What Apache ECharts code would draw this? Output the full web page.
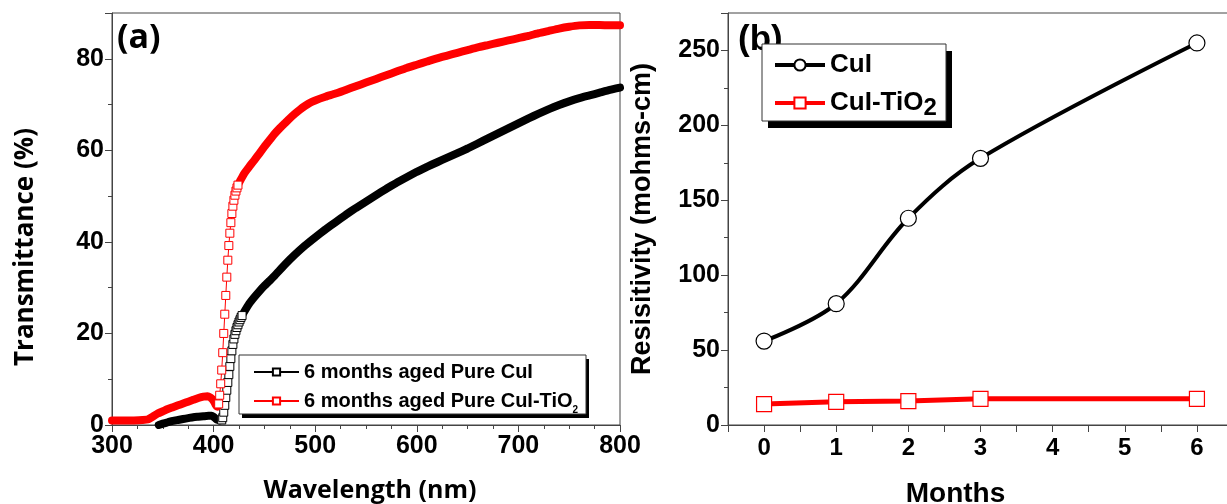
<!DOCTYPE html>
<html>
<head>
<meta charset="utf-8">
<title>Transmittance and resistivity</title>
<script src="https://cdn.jsdelivr.net/npm/echarts@6/dist/echarts.min.js"></script>
<style>
	html, body { margin: 0; padding: 0; background: #fff; }
	#chart { width: 1227px; height: 504px; }
</style>
</head>
<body>
<div id="chart"></div>
<script>
// (a) transmittance spectra
const wlPure = [346, 350, 355, 360, 365, 370, 375, 380, 385, 390, 395, 398, 400, 402, 404, 406, 408,
	409, 410, 411, 412, 413, 414, 415, 416, 417, 418, 419, 420, 421, 422, 423, 424, 425, 426, 427, 428,
	430, 435, 440, 445, 450, 455, 460, 470, 480, 490, 500, 510, 520, 530, 540, 550, 560, 570, 580, 590,
	600, 610, 620, 630, 640, 650, 660, 670, 680, 690, 700, 710, 720, 730, 740, 750, 760, 770, 780, 790, 800];
const tPure = [0.0, 0.3, 0.6, 0.9, 1.1, 1.3, 1.5, 1.7, 1.8, 1.9, 2.0, 2.0, 1.8, 1.4, 1.1, 1.0, 1.1,
	1.6, 2.8, 4.3, 6.0, 7.6, 9.3, 11.0, 12.8, 14.5, 16.2, 17.6, 18.8, 19.8, 20.6, 21.3, 21.9, 22.5, 23.0, 23.5, 23.9,
	24.7, 26.5, 27.9, 29.2, 30.4, 31.5, 32.6, 35.0, 37.2, 39.2, 41.0, 42.7, 44.3, 45.9, 47.4, 48.8, 50.2, 51.6, 52.9, 54.1,
	55.3, 56.4, 57.4, 58.4, 59.4, 60.4, 61.5, 62.6, 63.7, 64.8, 65.9, 67.0, 68.0, 69.0, 69.9, 70.7, 71.4, 72.0, 72.6, 73.2, 73.7];

const wlTiO2 = [300, 310, 320, 330, 335, 340, 345, 350, 355, 360, 365, 370, 375, 380, 385, 390, 394, 397, 399,
	401, 402, 403, 404, 405, 406, 407, 408, 409, 410, 411, 412, 413, 414, 415, 416, 417, 418, 419, 420, 421, 422,
	423, 424, 425, 426, 428, 430, 435, 440, 445, 450, 455, 460, 465, 470, 475, 480, 485, 490, 495, 500, 510, 520,
	530, 540, 550, 560, 570, 580, 590, 600, 610, 620, 630, 640, 650, 660, 670, 680, 690, 700, 710, 720, 730, 740,
	750, 760, 770, 780, 790, 800];
const tTiO2 = [1.0, 1.0, 1.0, 1.1, 1.2, 1.8, 2.5, 3.0, 3.5, 3.9, 4.3, 4.7, 5.1, 5.5, 5.9, 6.2, 6.3, 6.0, 5.6,
	4.9, 4.4, 4.1, 4.0, 4.6, 6.5, 9.0, 12.0, 15.8, 20.0, 24.2, 28.3, 32.3, 36.0, 39.2, 41.9, 44.2, 46.2, 47.8, 49.1, 50.2, 51.1,
	51.8, 52.4, 52.9, 53.3, 54.1, 54.9, 56.4, 57.8, 59.3, 60.8, 62.2, 63.6, 64.8, 65.9, 67.0, 68.0, 68.9, 69.7, 70.4, 70.9, 71.7, 72.4,
	73.2, 74.0, 74.8, 75.6, 76.4, 77.2, 78.0, 78.7, 79.4, 80.1, 80.7, 81.3, 81.9, 82.5, 83.0, 83.5, 84.0, 84.5, 85.0, 85.6, 86.1, 86.6,
	87.0, 87.3, 87.4, 87.4, 87.3, 87.3];

// (b) resistivity vs ageing time
const months = [0, 1, 2, 3, 6];
const rhoCuI = [56, 81, 138, 178, 255];
const rhoCuITiO2 = [14, 15.5, 16, 17.5, 17.5];

const namePure = '6 months aged Pure CuI';
const nameTiO2 = '6 months aged Pure CuI-TiO2';

// where single squares are still visible on the steep edge; elsewhere they merge into a band
const markerZonePure = [408, 428];
const markerZoneTiO2 = [405, 424];

function pick(xs, ys, zone, inside) {
	return xs.map(function(x, i) {
		var isIn = x >= zone[0] && x <= zone[1];
		return [x, isIn === inside ? ys[i] : '-'];
	});
}

const boldArial = 'Liberation Sans, Arial, sans-serif';
const segoeLike = 'Open Sans, Lato, sans-serif';
const axisColor = '#444';

function valueAxis(extra) {
	return Object.assign({
		type: 'value',
		axisLine: { show: true, onZero: false, lineStyle: { color: axisColor, width: 1 } },
		axisTick: { show: true, inside: false, length: 7, lineStyle: { color: axisColor } },
		minorTick: { show: true, length: 4, lineStyle: { color: axisColor } },
		splitLine: { show: false },
		axisLabel: { color: '#000', fontFamily: boldArial, fontWeight: 'bold', fontSize: 25, showMaxLabel: false },
		nameTextStyle: { color: '#000', fontWeight: 'bold' }
	}, extra);
}

// legend frames with the solid offset shadow
function framedBox(x, y, w, h, dx, dy) {
	return [
		{ type: 'rect', z: 10, shape: { x: x + dx, y: y + dy, width: w, height: h }, style: { fill: '#000' } },
		{ type: 'rect', z: 11, shape: { x: x, y: y, width: w, height: h }, style: { fill: '#fff', stroke: '#333', lineWidth: 1 } }
	];
}

var chart = echarts.init(document.getElementById('chart'), null, { renderer: 'canvas' });

var option = {
	animation: false,
	backgroundColor: '#fff',
	grid: [
		{ left: 112, top: 13, right: 607, bottom: 79, outerBoundsMode: 'none', containLabel: false,
			show: true, borderColor: axisColor, borderWidth: 1 },
		{ left: 728, top: 13, right: -6, bottom: 79, outerBoundsMode: 'none', containLabel: false,
			show: true, borderColor: axisColor, borderWidth: 1 }
	],
	xAxis: [
		valueAxis({
			gridIndex: 0, min: 300, max: 800, interval: 100,
			minorTick: { show: true, splitNumber: 4, length: 4, lineStyle: { color: axisColor } },
			axisLabel: { color: '#000', fontFamily: boldArial, fontWeight: 'bold', fontSize: 25, margin: 9 },
			name: 'Wavelength (nm)', nameLocation: 'middle', nameGap: 53,
			nameTextStyle: { color: '#000', fontFamily: segoeLike, fontWeight: 'bold', fontSize: 25, padding: [0, 0, 0, 8] }
		}),
		valueAxis({
			gridIndex: 1, min: -0.5, max: 6.5, interval: 0.5,
			minorTick: { show: false },
			axisLabel: {
				color: '#000', fontFamily: boldArial, fontWeight: 'bold', fontSize: 24, margin: 11,
				formatter: function(v) { return v % 1 === 0 && v >= 0 ? String(v) : ''; }
			},
			name: 'Months', nameLocation: 'middle', nameGap: 55,
			nameTextStyle: { color: '#000', fontFamily: boldArial, fontWeight: 'bold', fontSize: 28, padding: [0, 50, 0, 0] }
		})
	],
	yAxis: [
		valueAxis({
			gridIndex: 0, min: 0, max: 90, interval: 20,
			minorTick: { show: true, splitNumber: 2, length: 4, lineStyle: { color: axisColor } },
			name: 'Transmittance (%)', nameLocation: 'middle', nameRotate: 90, nameGap: 73,
			nameTextStyle: { color: '#000', fontFamily: segoeLike, fontWeight: 'bold', fontSize: 26, padding: [0, 56, 0, 0] }
		}),
		valueAxis({
			gridIndex: 1, min: 0, max: 275, interval: 50,
			minorTick: { show: true, splitNumber: 2, length: 4, lineStyle: { color: axisColor } },
			axisLabel: { color: '#000', fontFamily: boldArial, fontWeight: 'bold', fontSize: 25, showMaxLabel: false },
			name: 'Resisitivity (mohms-cm)', nameLocation: 'middle', nameRotate: 90, nameGap: 72,
			nameTextStyle: { color: '#000', fontFamily: boldArial, fontWeight: 'bold', fontSize: 27 }
		})
	],
	legend: [{
		data: [namePure, nameTiO2],
		orient: 'vertical',
		left: 253, top: 362, z: 20,
		padding: 0,
		itemGap: 5,
		itemWidth: 45, itemHeight: 9,
		selectedMode: false,
		formatter: function(n) { return n === nameTiO2 ? '6 months aged Pure CuI-TiO{sub|2}' : n; },
		textStyle: {
			color: '#000', fontFamily: boldArial, fontWeight: 'bold', fontSize: 20, lineHeight: 20,
			rich: { sub: { fontFamily: boldArial, fontWeight: 'bold', fontSize: 10, lineHeight: 28, verticalAlign: 'bottom' } }
		}
	}, {
		data: ['CuI', 'CuI-TiO2'],
		orient: 'vertical',
		left: 773, top: 52, z: 20,
		padding: 0,
		itemGap: 8,
		itemWidth: 50, itemHeight: 14,
		lineStyle: { width: 4 },
		selectedMode: false,
		formatter: function(n) { return n === 'CuI-TiO2' ? 'CuI-TiO{sub|2}' : n; },
		textStyle: {
			color: '#000', fontFamily: boldArial, fontWeight: 'bold', fontSize: 26, lineHeight: 26,
			rich: { sub: { fontFamily: boldArial, fontWeight: 'bold', fontSize: 24, lineHeight: 34, verticalAlign: 'bottom' } }
		}
	}],
	graphic: framedBox(239, 355, 347, 59, 3, 4).concat(framedBox(762, 44, 184, 77, 6, 7)).concat([
		{ type: 'text', left: 117, top: 21, z: 12, style: { text: '(a)', fontFamily: segoeLike, fontWeight: 'bold', fontSize: 34, fill: '#000' } },
		{ type: 'text', left: 738, top: 23, z: 9, style: { text: '(b)', fontFamily: boldArial, fontWeight: 'bold', fontSize: 35, fill: '#000' } }
	]),
	series: [
		// black curve: separate squares on the edge, merged band elsewhere
		{
			name: namePure, type: 'line', xAxisIndex: 0, yAxisIndex: 0, z: 3,
			data: pick(wlPure, tPure, markerZonePure, true),
			symbol: 'rect', symbolSize: 8, showAllSymbol: true,
			lineStyle: { color: '#000', width: 1 },
			itemStyle: { color: '#fff', borderColor: '#000', borderWidth: 1 }
		},
		{
			name: namePure, type: 'line', xAxisIndex: 0, yAxisIndex: 0, z: 2,
			data: pick(wlPure, tPure, [markerZonePure[0] + 1, markerZonePure[1] - 2], false),
			symbol: 'none', smooth: 0.15,
			lineStyle: { color: '#000', width: 8, cap: 'round', join: 'round' }
		},
		{
			name: nameTiO2, type: 'line', xAxisIndex: 0, yAxisIndex: 0, z: 5,
			data: pick(wlTiO2, tTiO2, markerZoneTiO2, true),
			symbol: 'rect', symbolSize: 8, showAllSymbol: true,
			lineStyle: { color: '#f00', width: 1 },
			itemStyle: { color: '#fff', borderColor: '#f00', borderWidth: 1 }
		},
		{
			name: nameTiO2, type: 'line', xAxisIndex: 0, yAxisIndex: 0, z: 4,
			data: pick(wlTiO2, tTiO2, [markerZoneTiO2[0] + 1, markerZoneTiO2[1] - 2], false),
			symbol: 'none', smooth: 0.15,
			lineStyle: { color: '#f00', width: 8, cap: 'round', join: 'round' }
		},
		// panel (b)
		{
			name: 'CuI', type: 'line', xAxisIndex: 1, yAxisIndex: 1,
			data: months.map(function(m, i) { return [m, rhoCuI[i]]; }),
			smooth: 0.35,
			symbol: 'circle', symbolSize: 16,
			lineStyle: { color: '#000', width: 4 },
			itemStyle: { color: '#fff', borderColor: '#000', borderWidth: 1.2 }
		},
		{
			name: 'CuI-TiO2', type: 'line', xAxisIndex: 1, yAxisIndex: 1,
			data: months.map(function(m, i) { return [m, rhoCuITiO2[i]]; }),
			symbol: 'rect', symbolSize: 15,
			lineStyle: { color: '#f00', width: 5 },
			itemStyle: { color: '#fff', borderColor: '#f00', borderWidth: 1.2 }
		}
	]
};

chart.setOption(option);
</script>
</body>
</html>
